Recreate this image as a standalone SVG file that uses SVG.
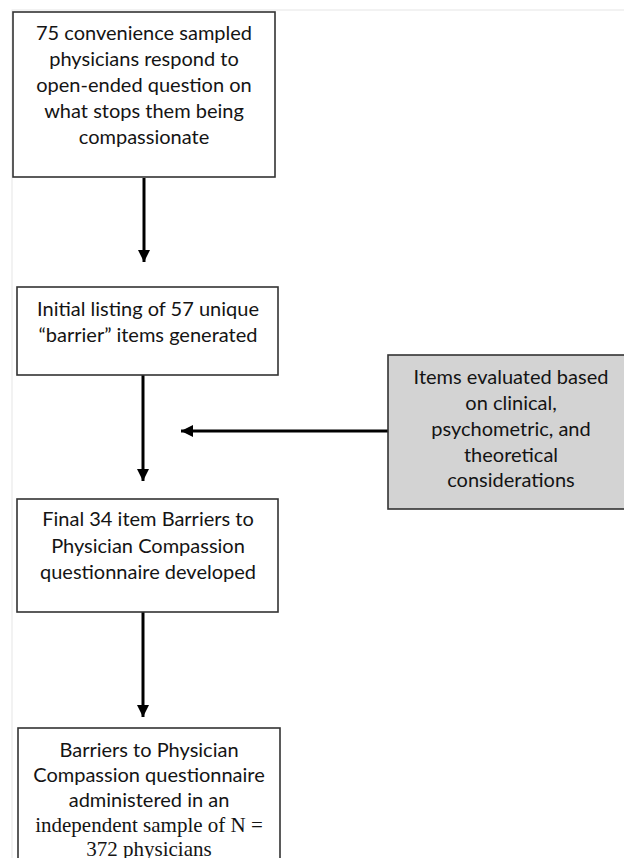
<svg xmlns="http://www.w3.org/2000/svg" width="624" height="858" viewBox="0 0 624 858">
<defs>
<style>
.box{fill:#ffffff;stroke:#333333;stroke-width:1.6}
.gray{fill:#d3d3d3;stroke:#333333;stroke-width:1.6}
.t{font-family:Lato,"Liberation Sans",sans-serif;font-size:20px;fill:#141414;text-anchor:middle}
.s{font-family:"Liberation Serif",serif;font-size:21px;fill:#141414;text-anchor:middle}
.arr{stroke:#000000;stroke-width:3;fill:none;marker-end:url(#ah)}
</style>
<marker id="ah" markerUnits="userSpaceOnUse" markerWidth="12" markerHeight="12" refX="12" refY="6" orient="auto">
<path d="M0,0 L12,6 L0,12 z" fill="#000000"/>
</marker>
</defs>
<rect x="0" y="0" width="624" height="858" fill="#ffffff"/>
<rect x="12" y="10" width="700" height="900" fill="none" stroke="#e6e6e6" stroke-width="1"/>
<g id="connectors">
<line class="arr" x1="144" y1="178" x2="144" y2="262"/>
<line class="arr" x1="143" y1="375" x2="143" y2="481"/>
<line class="arr" x1="143" y1="612" x2="143" y2="717"/>
<line class="arr" x1="388" y1="431" x2="181" y2="431"/>
</g>
<g id="node1">
<rect class="box" x="13" y="12" width="262" height="165"/>
<text class="t" x="144" y="40">75 convenience sampled</text>
<text class="t" x="144" y="66">physicians respond to</text>
<text class="t" x="144" y="92">open-ended question on</text>
<text class="t" x="144" y="118">what stops them being</text>
<text class="t" x="144" y="144">compassionate</text>
</g>
<g id="node2">
<rect class="box" x="17" y="287" width="261" height="88"/>
<text class="t" x="148" y="316">Initial listing of 57 unique</text>
<text class="t" x="148" y="342">“barrier” items generated</text>
</g>
<g id="node3">
<rect class="box" x="17" y="499" width="261" height="113"/>
<text class="t" x="148" y="526">Final 34 item Barriers to</text>
<text class="t" x="148" y="553">Physician Compassion</text>
<text class="t" x="148" y="579">questionnaire developed</text>
</g>
<g id="node4">
<rect class="gray" x="388" y="355" width="250" height="154"/>
<text class="t" x="511" y="384">Items evaluated based</text>
<text class="t" x="511" y="410">on clinical,</text>
<text class="t" x="511" y="436">psychometric, and</text>
<text class="t" x="511" y="462">theoretical</text>
<text class="t" x="511" y="487">considerations</text>
</g>
<g id="node5">
<rect class="box" x="18" y="728" width="262" height="150"/>
<text class="t" x="149" y="757">Barriers to Physician</text>
<text class="t" x="149" y="782">Compassion questionnaire</text>
<text class="t" x="149" y="807">administered in an</text>
<text class="s" x="149" y="832">independent sample of N =</text>
<text class="s" x="149" y="856">372 physicians</text>
</g>
</svg>
